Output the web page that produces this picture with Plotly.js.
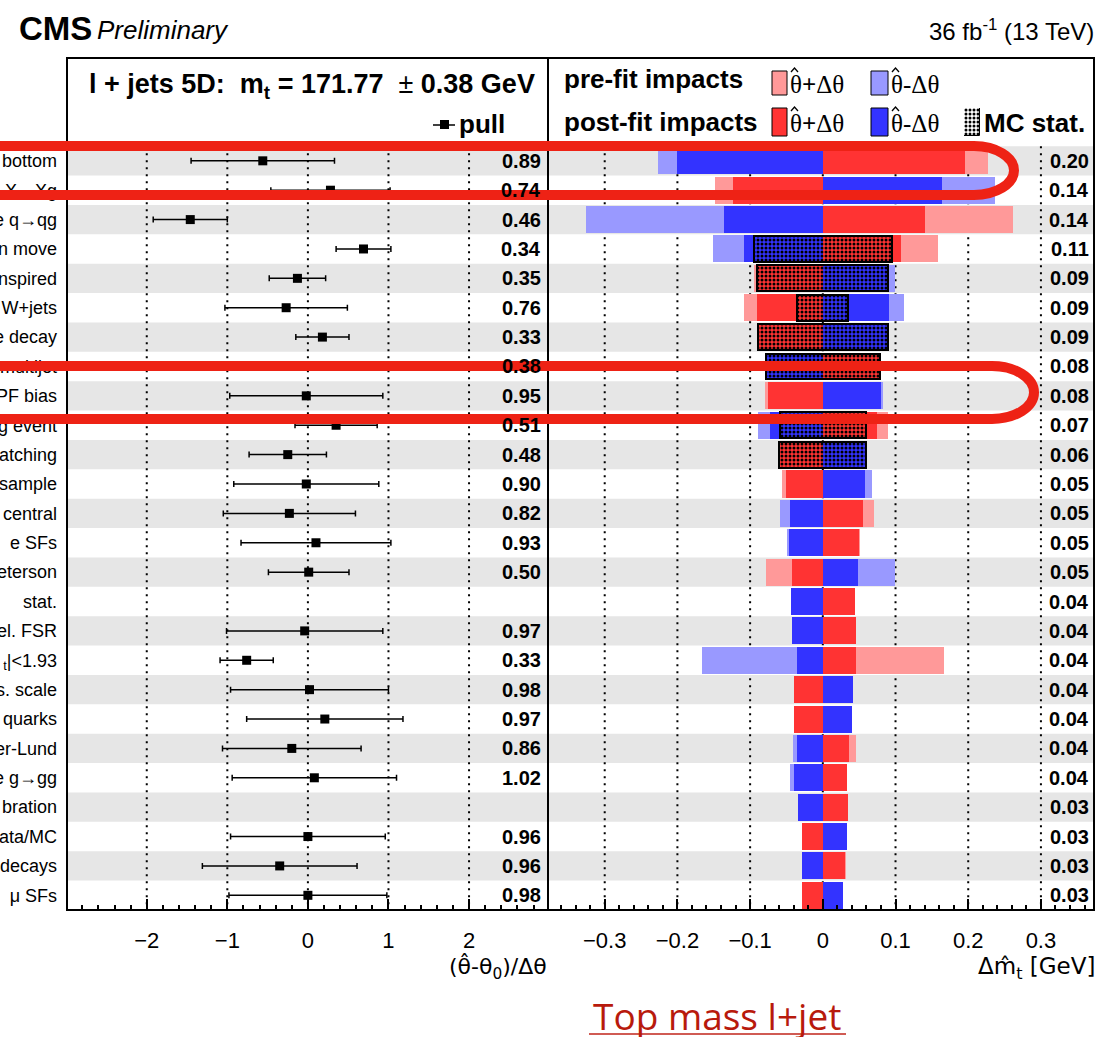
<!DOCTYPE html>
<html>
<head>
<meta charset="utf-8">
<script src="https://cdn.plot.ly/plotly-3.0.1.min.js"></script>
<style>
  html, body { margin: 0; padding: 0; background: #ffffff; }
  #chart { width: 1102px; height: 1037px; }
</style>
</head>
<body>
<div id="chart"></div>
<script>
// Nuisance parameters, ranked by impact on the top-quark mass (top row first)
const labels = [
  "bottom", "X→Xg", "e q→qg", "n move", "nspired", "W+jets", "e decay", "multijet",
  "PF bias", "g event", "atching", "sample", "central", "e SFs", "eterson", "stat.",
  "el. FSR", "<sub>t</sub>|&lt;1.93", "s. scale", "quarks", "er-Lund", "e g→gg",
  "bration", "ata/MC", "decays", "μ SFs"
];

// Post-fit pulls (θ̂-θ0)/Δθ and their post-fit constraints
const pull    = [-0.56, 0.28, -1.46, 0.69, -0.13, -0.27, 0.18, -0.44, -0.02, 0.35, -0.25, -0.02, -0.23,
                  0.10, 0.01, null, -0.04, -0.76, 0.02, 0.21, -0.20, 0.08, null, 0.00, -0.35, 0.00];
const pullErr = [0.89, 0.74, 0.46, 0.34, 0.35, 0.76, 0.33, 0.38, 0.95, 0.51, 0.48, 0.90, 0.82,
                 0.93, 0.50, null, 0.97, 0.33, 0.98, 0.97, 0.86, 1.02, null, 0.96, 0.96, 0.98];

// Impacts on m_t [GeV] for θ̂+Δθ (up) and θ̂-Δθ (down)
const postUp   = [0.196, -0.124, 0.140, 0.108, -0.092, -0.090, -0.089, 0.078, -0.076, 0.074, -0.060, -0.050, 0.055,
                  0.050, -0.043, 0.044, 0.045, 0.046, -0.040, -0.040, 0.036, 0.033, 0.034, -0.029, 0.031, -0.029];
const postDown = [-0.200, 0.164, -0.136, -0.108, 0.091, 0.091, 0.089, -0.078, 0.080, -0.072, 0.060, 0.058, -0.045,
                  -0.046, 0.049, -0.044, -0.042, -0.035, 0.041, 0.040, -0.036, -0.040, -0.034, 0.033, -0.029, 0.028];
const preUp    = [0.227, -0.148, 0.261, 0.159, -0.094, -0.109, -0.089, 0.078, -0.079, 0.090, -0.060, -0.056, 0.070,
                  0.051, -0.078, 0.044, 0.045, 0.167, -0.040, -0.040, 0.045, 0.033, 0.034, -0.029, 0.0325, -0.029];
const preDown  = [-0.227, 0.237, -0.326, -0.151, 0.099, 0.111, 0.089, -0.078, 0.083, -0.089, 0.060, 0.068, -0.059,
                  -0.049, 0.099, -0.044, -0.042, -0.166, 0.041, 0.040, -0.041, -0.045, -0.034, 0.033, -0.029, 0.028];
// MC statistical part of the impact (symmetric)
const mcStat   = [null, null, null, 0.095, 0.090, 0.035, 0.089, 0.078, null, 0.059, 0.060, null, null,
                  null, null, null, null, null, null, null, null, null, null, null, null, null];

const rows = labels.map((_, i) => i + 1);
const impact = postUp.map((u, i) => (Math.abs(u) + Math.abs(postDown[i])) / 2);

// Page geometry helpers (pixel -> paper)
const W = 1102, H = 1037;
const M = { l: 67, r: 8, t: 58, b: 127 };
const plotW = W - M.l - M.r, plotH = H - M.t - M.b;
const px = x => (x - M.l) / plotW;
const py = y => (H - M.b - y) / plotH;
const pt = (x, y) => px(x).toFixed(5) + "," + py(y).toFixed(5);
const split = px(548);

const SANS = "Liberation Sans, Arial, Helvetica, sans-serif";
const GREEK_SANS = "DejaVu Sans, Liberation Sans, sans-serif";
const SERIF = "Liberation Serif, Times New Roman, serif";
const C = { preUp: "#ff9999", preDown: "#9999ff", postUp: "#ff3333", postDown: "#3333ff", band: "#e6e6e6" };
const hatch = { shape: ".", fgcolor: "#000000", bgcolor: "rgba(0,0,0,0)", size: 4, solidity: 0.45 };

function hbar(vals, color, name) {
  return {
    type: "bar", orientation: "h", name: name, x: vals, y: rows, base: 0, width: 0.92,
    xaxis: "x2", yaxis: "y", marker: { color: color, line: { width: 0 } }, hoverinfo: "x+name"
  };
}

const traces = [
  hbar(preUp, C.preUp, "pre-fit θ̂+Δθ"),
  hbar(preDown, C.preDown, "pre-fit θ̂-Δθ"),
  hbar(postUp, C.postUp, "post-fit θ̂+Δθ"),
  hbar(postDown, C.postDown, "post-fit θ̂-Δθ"),
  {
    type: "bar", orientation: "h", name: "MC stat.",
    x: mcStat.map(v => v == null ? null : 2 * v),
    base: mcStat.map(v => v == null ? null : -v),
    y: rows, width: 0.88, xaxis: "x2", yaxis: "y",
    marker: { color: "rgba(0,0,0,0)", pattern: hatch, line: { color: "#000000", width: 2 } }
  },
  {
    type: "scatter", mode: "markers", name: "pull", x: pull, y: rows, xaxis: "x", yaxis: "y",
    marker: { symbol: "square", size: 9, color: "#000000" },
    error_x: { type: "data", array: pullErr, color: "#000000", thickness: 1.5, width: 3 }
  },
  // hatched swatch of the MC stat. key
  {
    type: "bar", x: [0.5], y: [1], width: [1], base: 0, xaxis: "x3", yaxis: "y3", hoverinfo: "skip",
    marker: { color: "#ffffff", pattern: hatch, line: { color: "#000000", width: 1 } }
  }
];

// ---- shapes ----
const shapes = [];
// alternating row bands
rows.forEach(r => {
  if (r % 2 === 1) {
    shapes.push({ type: "rect", layer: "below", xref: "paper", yref: "y", x0: 0, x1: 1,
                  y0: r - 0.5, y1: r + 0.5, fillcolor: C.band, line: { width: 0 } });
  }
});
// dotted reference lines over the ranked rows
[-2, -1, 0, 1, 2].forEach(v => shapes.push({ type: "line", layer: "below", xref: "x", yref: "y",
  x0: v, x1: v, y0: 0.5, y1: 26.5, line: { color: "#000000", width: 2, dash: "2px,5px" } }));
[-0.3, -0.2, -0.1, 0, 0.1, 0.2, 0.3].forEach(v => shapes.push({ type: "line", layer: "below", xref: "x2", yref: "y",
  x0: v, x1: v, y0: 0.5, y1: 26.5, line: { color: "#000000", width: 2, dash: "2px,5px" } }));
// panel frames
shapes.push({ type: "rect", xref: "paper", yref: "paper", x0: 0, x1: split, y0: 0, y1: 1, line: { color: "#000000", width: 2 } });
shapes.push({ type: "rect", xref: "paper", yref: "paper", x0: split, x1: 1, y0: 0, y1: 1, line: { color: "#000000", width: 2 } });

// key swatches
function swatch(x0, x1, y0, y1, color) {
  shapes.push({ type: "rect", xref: "paper", yref: "paper", x0: px(x0), x1: px(x1), y0: py(y1), y1: py(y0),
                fillcolor: color, line: { color: "#000000", width: 1 } });
}
swatch(772, 787, 71, 95, C.preUp);
swatch(871, 888, 71, 95, C.preDown);
swatch(772, 787, 108, 136, C.postUp);
swatch(871, 888, 108, 136, C.postDown);
// pull key glyph
shapes.push({ type: "line", xref: "paper", yref: "paper", x0: px(433), x1: px(455), y0: py(125), y1: py(125),
              line: { color: "#000000", width: 1.5 } });
shapes.push({ type: "rect", xref: "paper", yref: "paper", x0: px(440), x1: px(449), y0: py(129), y1: py(120),
              fillcolor: "#000000", line: { width: 0 } });

// hand-drawn highlight loops
function loop(xl, xr, yt, yb, rx) {
  const ym = (yt + yb) / 2, xc = xr - rx, k = 0.55;
  return "M " + pt(xl, yt) + " L " + pt(xc, yt) +
    " C " + pt(xc + k * rx, yt) + " " + pt(xr, ym - k * (ym - yt)) + " " + pt(xr, ym) +
    " C " + pt(xr, ym + k * (yb - ym)) + " " + pt(xc + k * rx, yb) + " " + pt(xc, yb) +
    " L " + pt(xl, yb);
}
const scribble = { color: "#ee2215", width: 10 };
shapes.push({ type: "path", xref: "paper", yref: "paper", path: loop(-30, 1014, 146, 195, 40), line: scribble });
shapes.push({ type: "path", xref: "paper", yref: "paper", path: loop(-30, 1034, 366, 419, 42), line: scribble });
// underline of the slide caption
shapes.push({ type: "line", xref: "paper", yref: "paper", x0: px(589), x1: px(846), y0: py(1034), y1: py(1034),
              line: { color: "#c0251a", width: 1.5 } });

// ---- annotations ----
const ann = [];
function txt(text, x, y, size, opts, family) {
  ann.push(Object.assign({ text: text, xref: "paper", yref: "paper", x: px(x), y: py(y), showarrow: false,
    xanchor: "left", yanchor: "middle", font: { family: family || SANS, size: size, color: "#000000" } }, opts || {}));
}
// constraint column (left) and impact column (right)
rows.forEach((r, i) => {
  if (pullErr[i] != null) {
    ann.push({ text: "<b>" + pullErr[i].toFixed(2) + "</b>", xref: "paper", yref: "y", x: px(543), y: r,
      xanchor: "right", yanchor: "middle", showarrow: false, font: { family: SANS, size: 20, color: "#000000" } });
  }
  ann.push({ text: "<b>" + impact[i].toFixed(2) + "</b>", xref: "paper", yref: "y", x: px(1091), y: r,
    xanchor: "right", yanchor: "middle", showarrow: false, font: { family: SANS, size: 20, color: "#000000" } });
});

txt("<b>CMS</b>", 17, 28, 33);
txt("<i>Preliminary</i>", 95, 30, 26);
txt("36 fb<sup>-1</sup> (13 TeV)", 1096, 30, 24, { xanchor: "right" });
txt("<b>l + jets 5D:  m<sub>t</sub> = 171.77</b>  ± <b>0.38 GeV</b>", 312, 86, 27, { xanchor: "center" });
txt("<b>pull</b>", 457, 124, 26);
txt("<b>pre-fit impacts</b>", 562, 79, 26);
txt("<b>post-fit impacts</b>", 562, 122, 26);
// key entries: θ with a circumflex accent drawn above it
[[788, 84, "θ<b>+</b>Δθ"], [889, 84, "θ-Δθ"], [788, 123, "θ<b>+</b>Δθ"], [889, 123, "θ-Δθ"]].forEach(k => {
  txt(k[2], k[0], k[1], 25, null, SERIF);
  const cx = k[0] + 6.5, cy = k[1] - 14;
  shapes.push({ type: "path", xref: "paper", yref: "paper",
                path: "M " + pt(cx - 3.5, cy + 2) + " L " + pt(cx, cy - 2) + " L " + pt(cx + 3.5, cy + 2),
                line: { color: "#000000", width: 1.3 } });
});
txt("<b>MC stat.</b>", 982, 123, 26);
txt("(θ̂-θ<sub>0</sub>)/Δθ", 549, 968, 22, { xanchor: "right" }, GREEK_SANS);
txt("Δm̂<sub>t</sub> [GeV]", 1097, 968, 23, { xanchor: "right" }, GREEK_SANS);
txt("Top mass l+jet", 717, 1016, 37, { xanchor: "center" });
ann[ann.length - 1].font = { family: "Open Sans, Lato, sans-serif", size: 37, color: "#b81a0c" };

const tickCommon = {
  showgrid: false, zeroline: false, showline: false,
  ticks: "inside", ticklen: 11, tickwidth: 1.5, tickcolor: "#000000",
  ticklabelstandoff: 15, tickfont: { family: SANS, size: 22, color: "#000000" }
};

const layout = {
  width: W, height: H,
  margin: { l: M.l, r: M.r, t: M.t, b: M.b, pad: 0 },
  paper_bgcolor: "#ffffff", plot_bgcolor: "rgba(0,0,0,0)",
  showlegend: false, barmode: "overlay", bargap: 0,
  font: { family: SANS, color: "#000000" },
  xaxis: Object.assign({}, tickCommon, {
    domain: [0, split], range: [-2.99, 2.98], dtick: 1, tick0: 0, anchor: "y",
    minor: { ticks: "inside", ticklen: 5, tickwidth: 1.5, tickcolor: "#000000", dtick: 0.2, tick0: 0, showgrid: false }
  }),
  xaxis2: Object.assign({}, tickCommon, {
    domain: [split, 1], range: [-0.378, 0.373], dtick: 0.1, tick0: 0, anchor: "y",
    minor: { ticks: "inside", ticklen: 5, tickwidth: 1.5, tickcolor: "#000000", dtick: 0.02, tick0: 0, showgrid: false }
  }),
  yaxis: {
    range: [26.5, -2.5], tickmode: "array", tickvals: rows, ticktext: labels,
    showgrid: false, zeroline: false, showline: false, ticks: "", ticklabelstandoff: 9,
    tickfont: { family: SANS, size: 18, color: "#000000" }, anchor: "x"
  },
  xaxis3: { domain: [px(964), px(980)], range: [0, 1], visible: false, anchor: "y3", fixedrange: true },
  yaxis3: { domain: [py(136), py(108)], range: [0, 1], visible: false, anchor: "x3", fixedrange: true },
  shapes: shapes,
  annotations: ann
};

Plotly.newPlot("chart", traces, layout, { displayModeBar: false, responsive: false });
</script>
</body>
</html>
